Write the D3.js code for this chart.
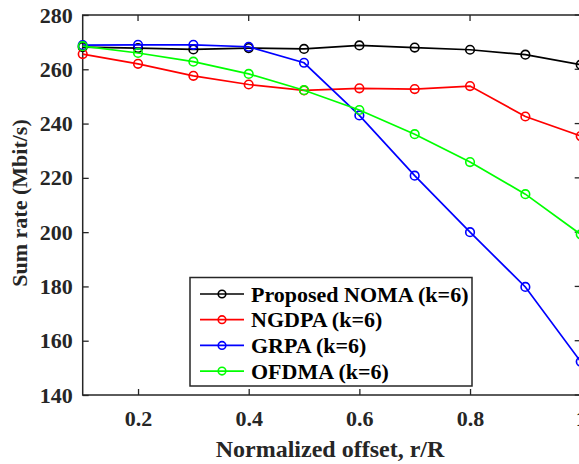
<!DOCTYPE html>
<html>
<head>
<meta charset="utf-8">
<script src="https://cdn.jsdelivr.net/npm/d3@7"></script>
<style>
  body { margin: 0; background: #fff; }
  svg { display: block; }
</style>
</head>
<body>
<div id="chart"></div>
<script>
// offsets r/R
var offsets = [0.1, 0.2, 0.3, 0.4, 0.5, 0.6, 0.7, 0.8, 0.9, 1.0];

// sum rate (Mbit/s)
var proposedNoma = [268.2, 267.8, 267.3, 267.8, 267.5, 268.8, 268.0, 267.2, 265.4, 261.7];
var ngdpa        = [265.6, 262.0, 257.6, 254.4, 252.2, 253.0, 252.7, 253.8, 242.6, 235.4];
var grpa         = [268.9, 269.0, 269.0, 268.3, 262.4, 243.0, 220.8, 200.0, 179.8, 152.3];
var ofdma        = [268.5, 266.0, 262.8, 258.3, 252.3, 245.0, 236.1, 225.8, 214.0, 199.2];

var seriesNames = ["Proposed NOMA (k=6)", "NGDPA (k=6)", "GRPA (k=6)", "OFDMA (k=6)"];
var seriesColors = ["#000000", "#ff0000", "#0000ff", "#00ff00"];

var xTicks = [0.2, 0.4, 0.6, 0.8, 1];
var yTicks = [140, 160, 180, 200, 220, 240, 260, 280];

var fontFam = "'Liberation Serif', 'Times New Roman', serif";

drawChart();

function drawChart() {
  var width = 579, height = 464;
  var mLeft = 82.7, mRight = 580.7, mTop = 15, mBottom = 395;

  var svg = d3.select("#chart").append("svg")
    .attr("width", width)
    .attr("height", height);

  var x = d3.scaleLinear().domain([0.1, 1]).range([mLeft, mRight]);
  var y = d3.scaleLinear().domain([140, 280]).range([mBottom, mTop]);

  var axisColor = "#262626";
  var tickLen = 6;

  // bottom + left axes, ticks pointing inward
  var xAxis = svg.append("g")
    .attr("transform", "translate(0," + mBottom + ")")
    .call(d3.axisBottom(x).tickValues(xTicks).tickSizeInner(-tickLen).tickSizeOuter(0)
      .tickPadding(15).tickFormat(function(d){ return d === 1 ? "1" : d3.format(".1f")(d); }));
  var yAxis = svg.append("g")
    .attr("transform", "translate(" + mLeft + ",0)")
    .call(d3.axisLeft(y).tickValues(yTicks).tickSizeInner(-tickLen).tickSizeOuter(0).tickPadding(10));

  [xAxis, yAxis].forEach(function(a){
    a.select(".domain").remove();
    a.selectAll("line").attr("stroke", axisColor).attr("stroke-width", 1.3);
    a.selectAll("text")
      .style("font-family", fontFam).style("font-weight", "bold")
      .style("font-size", "22px").attr("fill", axisColor);
  });

  // top / right ticks
  svg.append("g").selectAll("line").data(xTicks).enter().append("line")
    .attr("x1", function(d){ return x(d); }).attr("x2", function(d){ return x(d); })
    .attr("y1", mTop).attr("y2", mTop + tickLen)
    .attr("stroke", axisColor).attr("stroke-width", 1.3);
  svg.append("g").selectAll("line").data(yTicks).enter().append("line")
    .attr("x1", mRight).attr("x2", mRight - tickLen)
    .attr("y1", function(d){ return y(d); }).attr("y2", function(d){ return y(d); })
    .attr("stroke", axisColor).attr("stroke-width", 1.3);

  // axes box
  svg.append("rect")
    .attr("x", mLeft).attr("y", mTop)
    .attr("width", mRight - mLeft).attr("height", mBottom - mTop)
    .attr("fill", "none").attr("stroke", axisColor).attr("stroke-width", 1.5);

  // axis labels
  svg.append("text")
    .attr("x", 330).attr("y", 457)
    .attr("text-anchor", "middle")
    .style("font-family", fontFam).style("font-weight", "bold")
    .style("font-size", "24px").attr("fill", axisColor)
    .text("Normalized offset, r/R");

  svg.append("text")
    .attr("transform", "translate(27,203) rotate(-90)")
    .attr("text-anchor", "middle")
    .style("font-family", fontFam).style("font-weight", "bold")
    .style("font-size", "22px").attr("fill", axisColor)
    .text("Sum rate (Mbit/s)");

  // series
  var allSeries = [proposedNoma, ngdpa, grpa, ofdma];
  var line = d3.line()
    .x(function(d, i){ return x(offsets[i]); })
    .y(function(d){ return y(d); });

  var plot = svg.append("g");
  allSeries.forEach(function(vals, s) {
    plot.append("path")
      .datum(vals)
      .attr("d", line)
      .attr("fill", "none")
      .attr("stroke", seriesColors[s])
      .attr("stroke-width", 1.7);
    plot.selectAll(".m" + s)
      .data(vals).enter().append("circle")
      .attr("class", "m" + s)
      .attr("cx", function(d, i){ return x(offsets[i]); })
      .attr("cy", function(d){ return y(d); })
      .attr("r", 4.3)
      .attr("fill", "none")
      .attr("stroke", seriesColors[s])
      .attr("stroke-width", 1.6);
  });

  // legend
  var legend = svg.append("g");
  legend.append("rect")
    .attr("x", 190).attr("y", 277.5)
    .attr("width", 282).attr("height", 108.5)
    .attr("fill", "#fff").attr("stroke", axisColor).attr("stroke-width", 1.5);

  var rowY = 294, rowStep = 25.7;
  seriesNames.forEach(function(name, i) {
    var g = legend.append("g").attr("transform", "translate(0," + (rowY + i * rowStep) + ")");
    g.append("line").attr("x1", 200).attr("x2", 244).attr("y1", 0).attr("y2", 0)
      .attr("stroke", seriesColors[i]).attr("stroke-width", 1.7);
    g.append("circle").attr("cx", 222).attr("cy", 0).attr("r", 3.8)
      .attr("fill", "none").attr("stroke", seriesColors[i]).attr("stroke-width", 1.6);
    g.append("text").attr("x", 251).attr("y", 0).attr("dy", "0.35em")
      .style("font-family", fontFam).style("font-weight", "bold")
      .style("font-size", "22px")
      .attr("fill", "#000")
      .text(name);
  });
}
</script>
</body>
</html>
